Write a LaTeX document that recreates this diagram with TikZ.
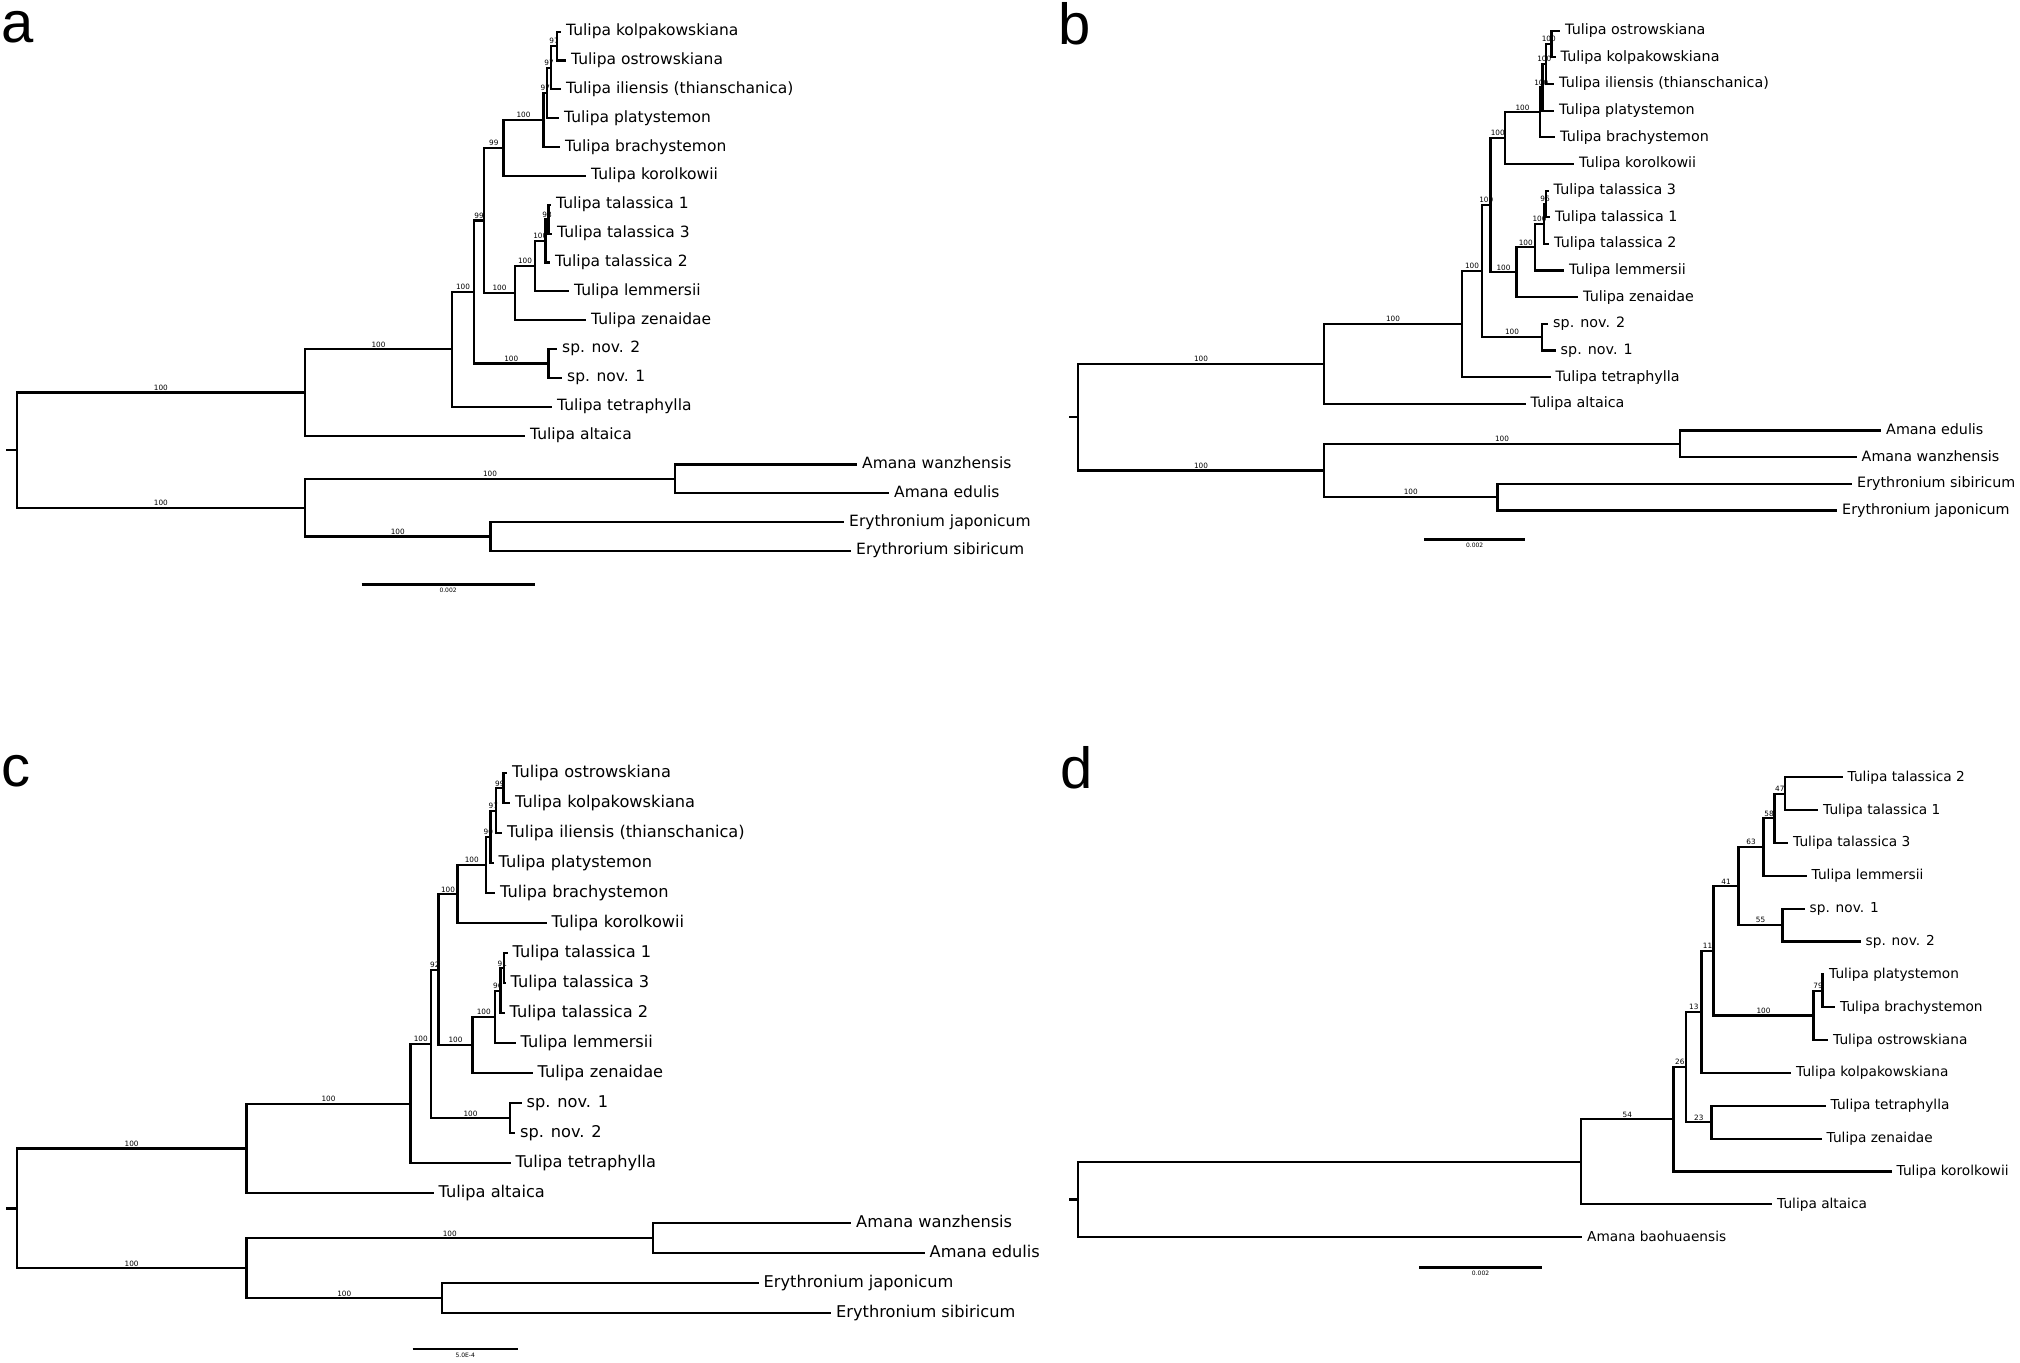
\documentclass[tikz,border=0pt]{standalone}
\usepackage{fontspec}
\newfontfamily\dv{DejaVu Sans}
\newfontfamily\lib{Liberation Sans}
\begin{document}
\begin{tikzpicture}[x=1pt,y=-1pt,
 br/.style={line width=2.2pt,line cap=rect},
 leaf/.style={anchor=west,inner xsep=6pt,inner ysep=0pt,text height=0.78em,text depth=0pt},
 fa/.style={font=\dv\fontsize{15.5}{18}\selectfont},
 fb/.style={font=\dv\fontsize{14.3}{17}\selectfont},
 fc/.style={font=\dv\fontsize{16.2}{19}\selectfont},
 fd/.style={font=\dv\fontsize{13.7}{16}\selectfont},
 bs/.style={font=\dv\fontsize{7.3}{8}\selectfont,pos=0.75,above,inner sep=1pt},
 sbar/.style={line width=2.5pt},
 slab/.style={font=\dv\fontsize{6}{7}\selectfont,below,inner sep=2.5pt},
 plab/.style={font=\lib\fontsize{58}{60}\selectfont,anchor=base west,inner sep=0pt}]
\fill[white] (0,0) rectangle (2020,1362);
\useasboundingbox (0,0) rectangle (2020,1362);

% ================= panel a =================
\node[plab] (la) at (1,43) {a};
\node[leaf,fa] (aL1) at (560,31.70) {Tulipa kolpakowskiana};
\node[leaf,fa] (aL2) at (565,60.55) {Tulipa ostrowskiana};
\node[leaf,fa] (aL3) at (560,89.40) {Tulipa iliensis (thianschanica)};
\node[leaf,fa] (aL4) at (558,118.25) {Tulipa platystemon};
\node[leaf,fa] (aL5) at (559,147.10) {Tulipa brachystemon};
\node[leaf,fa] (aL6) at (585,175.95) {Tulipa korolkowii};
\node[leaf,fa] (aL7) at (550,204.80) {Tulipa talassica 1};
\node[leaf,fa] (aL8) at (551,233.65) {Tulipa talassica 3};
\node[leaf,fa] (aL9) at (549,262.50) {Tulipa talassica 2};
\node[leaf,fa] (aL10) at (568,291.35) {Tulipa lemmersii};
\node[leaf,fa] (aL11) at (585,320.20) {Tulipa zenaidae};
\node[leaf,fa] (aL12) at (556,349.05) {sp. nov. 2};
\node[leaf,fa] (aL13) at (561,377.90) {sp. nov. 1};
\node[leaf,fa] (aL14) at (551,406.75) {Tulipa tetraphylla};
\node[leaf,fa] (aL15) at (524,435.60) {Tulipa altaica};
\node[leaf,fa] (aL16) at (856,464.45) {Amana wanzhensis};
\node[leaf,fa] (aL17) at (888,493.30) {Amana edulis};
\node[leaf,fa] (aL18) at (843,522.15) {Erythronium japonicum};
\node[leaf,fa] (aL19) at (850,551.00) {Erythrorium sibiricum};
\coordinate (aN1) at (557,46.13);
\coordinate (aN2) at (551,67.76);
\coordinate (aN3) at (547,93.00);
\coordinate (aN4) at (543.5,120.05);
\coordinate (aN5) at (503.5,148.00);
\coordinate (aT1) at (548.5,219.23);
\coordinate (aT2) at (545.5,240.86);
\coordinate (aT3) at (535,266.10);
\coordinate (aT4) at (515,293.15);
\coordinate (aN6) at (484,220.58);
\coordinate (aSP) at (548.5,363.48);
\coordinate (aN7) at (474,292.03);
\coordinate (aN8) at (452,349.39);
\coordinate (aN9) at (305,392.50);
\coordinate (aAM) at (675,478.88);
\coordinate (aER) at (490.5,536.58);
\coordinate (aOG) at (305,507.73);
\coordinate (aR) at (16.7,450.10);
\coordinate (aRt) at (6.7,450.10);
\draw[br] (aN1) |- (aL1.west); \draw[br] (aN1) |- (aL2.west);
\draw[br] (aN2) |- node[bs]{97} (aN1); \draw[br] (aN2) |- (aL3.west);
\draw[br] (aN3) |- node[bs]{97} (aN2); \draw[br] (aN3) |- (aL4.west);
\draw[br] (aN4) |- node[bs]{97} (aN3); \draw[br] (aN4) |- (aL5.west);
\draw[br] (aN5) |- node[bs]{100} (aN4); \draw[br] (aN5) |- (aL6.west);
\draw[br] (aT1) |- (aL7.west); \draw[br] (aT1) |- (aL8.west);
\draw[br] (aT2) |- node[bs]{98} (aT1); \draw[br] (aT2) |- (aL9.west);
\draw[br] (aT3) |- node[bs]{100} (aT2); \draw[br] (aT3) |- (aL10.west);
\draw[br] (aT4) |- node[bs]{100} (aT3); \draw[br] (aT4) |- (aL11.west);
\draw[br] (aN6) |- node[bs]{99} (aN5); \draw[br] (aN6) |- node[bs]{100} (aT4);
\draw[br] (aSP) |- (aL12.west); \draw[br] (aSP) |- (aL13.west);
\draw[br] (aN7) |- node[bs]{99} (aN6); \draw[br] (aN7) |- node[bs]{100} (aSP);
\draw[br] (aN8) |- node[bs]{100} (aN7); \draw[br] (aN8) |- (aL14.west);
\draw[br] (aN9) |- node[bs]{100} (aN8); \draw[br] (aN9) |- (aL15.west);
\draw[br] (aAM) |- (aL16.west); \draw[br] (aAM) |- (aL17.west);
\draw[br] (aER) |- (aL18.west); \draw[br] (aER) |- (aL19.west);
\draw[br] (aOG) |- node[bs]{100} (aAM); \draw[br] (aOG) |- node[bs]{100} (aER);
\draw[br] (aR) |- node[bs]{100} (aN9); \draw[br] (aR) |- node[bs]{100} (aOG);
\draw[br] (aRt) -- (aR);
\coordinate (aS1) at (361.7,584.4); \coordinate (aS2) at (534.5,584.4);
\draw[sbar] (aS1) -- node[slab]{0.002} (aS2);

% ================= panel b =================
\node[plab] (lb) at (1058,45) {b};
\node[leaf,fb] (bL1) at (1559,30.70) {Tulipa ostrowskiana};
\node[leaf,fb] (bL2) at (1554.5,57.35) {Tulipa kolpakowskiana};
\node[leaf,fb] (bL3) at (1553,84.00) {Tulipa iliensis (thianschanica)};
\node[leaf,fb] (bL4) at (1553,110.65) {Tulipa platystemon};
\node[leaf,fb] (bL5) at (1554,137.30) {Tulipa brachystemon};
\node[leaf,fb] (bL6) at (1573,163.95) {Tulipa korolkowii};
\node[leaf,fb] (bL7) at (1547.5,190.60) {Tulipa talassica 3};
\node[leaf,fb] (bL8) at (1549,217.25) {Tulipa talassica 1};
\node[leaf,fb] (bL9) at (1548,243.90) {Tulipa talassica 2};
\node[leaf,fb] (bL10) at (1563,270.55) {Tulipa lemmersii};
\node[leaf,fb] (bL11) at (1577,297.20) {Tulipa zenaidae};
\node[leaf,fb] (bL12) at (1547,323.85) {sp. nov. 2};
\node[leaf,fb] (bL13) at (1554.5,350.50) {sp. nov. 1};
\node[leaf,fb] (bL14) at (1549.5,377.15) {Tulipa tetraphylla};
\node[leaf,fb] (bL15) at (1524.5,403.80) {Tulipa altaica};
\node[leaf,fb] (bL16) at (1880,430.45) {Amana edulis};
\node[leaf,fb] (bL17) at (1855.5,457.10) {Amana wanzhensis};
\node[leaf,fb] (bL18) at (1851,483.75) {Erythronium sibiricum};
\node[leaf,fb] (bL19) at (1836,510.40) {Erythronium japonicum};
\coordinate (bB1) at (1551.5,44.03);
\coordinate (bB2) at (1546,64.01);
\coordinate (bB3) at (1542.5,87.33);
\coordinate (bB4) at (1540,112.32);
\coordinate (bB5) at (1505,138.13);
\coordinate (bT1) at (1546,203.93);
\coordinate (bT2) at (1544,223.91);
\coordinate (bT3) at (1535,247.23);
\coordinate (bT4) at (1516.5,272.22);
\coordinate (bB6) at (1490.5,205.17);
\coordinate (bSP) at (1542,337.18);
\coordinate (bB7) at (1482,271.17);
\coordinate (bB8) at (1462,324.16);
\coordinate (bB9) at (1324,363.98);
\coordinate (bAM) at (1680,443.78);
\coordinate (bER) at (1497.5,497.08);
\coordinate (bOG) at (1324,470.43);
\coordinate (bR) at (1078,417.20);
\coordinate (bRt) at (1070,417.20);
\draw[br] (bB1) |- (bL1.west); \draw[br] (bB1) |- (bL2.west);
\draw[br] (bB2) |- node[bs]{100} (bB1); \draw[br] (bB2) |- (bL3.west);
\draw[br] (bB3) |- node[bs]{100} (bB2); \draw[br] (bB3) |- (bL4.west);
\draw[br] (bB4) |- node[bs]{100} (bB3); \draw[br] (bB4) |- (bL5.west);
\draw[br] (bB5) |- node[bs]{100} (bB4); \draw[br] (bB5) |- (bL6.west);
\draw[br] (bT1) |- (bL7.west); \draw[br] (bT1) |- (bL8.west);
\draw[br] (bT2) |- node[bs]{96} (bT1); \draw[br] (bT2) |- (bL9.west);
\draw[br] (bT3) |- node[bs]{100} (bT2); \draw[br] (bT3) |- (bL10.west);
\draw[br] (bT4) |- node[bs]{100} (bT3); \draw[br] (bT4) |- (bL11.west);
\draw[br] (bB6) |- node[bs]{100} (bB5); \draw[br] (bB6) |- node[bs]{100} (bT4);
\draw[br] (bSP) |- (bL12.west); \draw[br] (bSP) |- (bL13.west);
\draw[br] (bB7) |- node[bs]{100} (bB6); \draw[br] (bB7) |- node[bs]{100} (bSP);
\draw[br] (bB8) |- node[bs]{100} (bB7); \draw[br] (bB8) |- (bL14.west);
\draw[br] (bB9) |- node[bs]{100} (bB8); \draw[br] (bB9) |- (bL15.west);
\draw[br] (bAM) |- (bL16.west); \draw[br] (bAM) |- (bL17.west);
\draw[br] (bER) |- (bL18.west); \draw[br] (bER) |- (bL19.west);
\draw[br] (bOG) |- node[bs]{100} (bAM); \draw[br] (bOG) |- node[bs]{100} (bER);
\draw[br] (bR) |- node[bs]{100} (bB9); \draw[br] (bR) |- node[bs]{100} (bOG);
\draw[br] (bRt) -- (bR);
\coordinate (bS1) at (1424.3,539.7); \coordinate (bS2) at (1525,539.7);
\draw[sbar] (bS1) -- node[slab]{0.002} (bS2);

% ================= panel c =================
\node[plab] (lc) at (1,786) {c};
\node[leaf,fc] (cL1) at (506,773.3) {Tulipa ostrowskiana};
\node[leaf,fc] (cL2) at (509,803.3) {Tulipa kolpakowskiana};
\node[leaf,fc] (cL3) at (501,833.3) {Tulipa iliensis (thianschanica)};
\node[leaf,fc] (cL4) at (492.5,863.3) {Tulipa platystemon};
\node[leaf,fc] (cL5) at (494,893.3) {Tulipa brachystemon};
\node[leaf,fc] (cL6) at (545.5,923.3) {Tulipa korolkowii};
\node[leaf,fc] (cL7) at (506.5,953.3) {Tulipa talassica 1};
\node[leaf,fc] (cL8) at (504.5,983.3) {Tulipa talassica 3};
\node[leaf,fc] (cL9) at (503.5,1013.3) {Tulipa talassica 2};
\node[leaf,fc] (cL10) at (514.5,1043.3) {Tulipa lemmersii};
\node[leaf,fc] (cL11) at (531.5,1073.3) {Tulipa zenaidae};
\node[leaf,fc] (cL12) at (520.5,1103.3) {sp. nov. 1};
\node[leaf,fc] (cL13) at (514,1133.3) {sp. nov. 2};
\node[leaf,fc] (cL14) at (509.5,1163.3) {Tulipa tetraphylla};
\node[leaf,fc] (cL15) at (432.5,1193.3) {Tulipa altaica};
\node[leaf,fc] (cL16) at (850,1223.3) {Amana wanzhensis};
\node[leaf,fc] (cL17) at (923.5,1253.3) {Amana edulis};
\node[leaf,fc] (cL18) at (757.5,1283.3) {Erythronium japonicum};
\node[leaf,fc] (cL19) at (830,1313.3) {Erythronium sibiricum};
\coordinate (cC1) at (503.5,788.30);
\coordinate (cC2) at (496,810.80);
\coordinate (cC3) at (490.5,837.05);
\coordinate (cC4) at (486,865.18);
\coordinate (cC5) at (457.5,894.24);
\coordinate (cT1) at (504,968.30);
\coordinate (cT2) at (500.5,990.80);
\coordinate (cT3) at (495,1017.05);
\coordinate (cT4) at (472.5,1045.18);
\coordinate (cC6) at (438.5,969.71);
\coordinate (cSP) at (510,1118.30);
\coordinate (cC7) at (431,1044.00);
\coordinate (cC8) at (410.5,1103.65);
\coordinate (cC9) at (246.5,1148.48);
\coordinate (cAM) at (653,1238.30);
\coordinate (cER) at (442,1298.30);
\coordinate (cOG) at (246.5,1268.30);
\coordinate (cR) at (16.7,1208.39);
\coordinate (cRt) at (6.7,1208.39);
\draw[br] (cC1) |- (cL1.west); \draw[br] (cC1) |- (cL2.west);
\draw[br] (cC2) |- node[bs]{99} (cC1); \draw[br] (cC2) |- (cL3.west);
\draw[br] (cC3) |- node[bs]{97} (cC2); \draw[br] (cC3) |- (cL4.west);
\draw[br] (cC4) |- node[bs]{90} (cC3); \draw[br] (cC4) |- (cL5.west);
\draw[br] (cC5) |- node[bs]{100} (cC4); \draw[br] (cC5) |- (cL6.west);
\draw[br] (cT1) |- (cL7.west); \draw[br] (cT1) |- (cL8.west);
\draw[br] (cT2) |- node[bs]{91} (cT1); \draw[br] (cT2) |- (cL9.west);
\draw[br] (cT3) |- node[bs]{96} (cT2); \draw[br] (cT3) |- (cL10.west);
\draw[br] (cT4) |- node[bs]{100} (cT3); \draw[br] (cT4) |- (cL11.west);
\draw[br] (cC6) |- node[bs]{100} (cC5); \draw[br] (cC6) |- node[bs]{100} (cT4);
\draw[br] (cSP) |- (cL12.west); \draw[br] (cSP) |- (cL13.west);
\draw[br] (cC7) |- node[bs]{92} (cC6); \draw[br] (cC7) |- node[bs]{100} (cSP);
\draw[br] (cC8) |- node[bs]{100} (cC7); \draw[br] (cC8) |- (cL14.west);
\draw[br] (cC9) |- node[bs]{100} (cC8); \draw[br] (cC9) |- (cL15.west);
\draw[br] (cAM) |- (cL16.west); \draw[br] (cAM) |- (cL17.west);
\draw[br] (cER) |- (cL18.west); \draw[br] (cER) |- (cL19.west);
\draw[br] (cOG) |- node[bs]{100} (cAM); \draw[br] (cOG) |- node[bs]{100} (cER);
\draw[br] (cR) |- node[bs]{100} (cC9); \draw[br] (cR) |- node[bs]{100} (cOG);
\draw[br] (cRt) -- (cR);
\coordinate (cS1) at (412.7,1349); \coordinate (cS2) at (517.7,1349);
\draw[sbar] (cS1) -- node[slab]{5.0E-4} (cS2);

% ================= panel d =================
\node[plab] (ld) at (1060,788) {d};
\node[leaf,fd] (dL1) at (1841.5,777.30) {Tulipa talassica 2};
\node[leaf,fd] (dL2) at (1817,810.15) {Tulipa talassica 1};
\node[leaf,fd] (dL3) at (1787,843.00) {Tulipa talassica 3};
\node[leaf,fd] (dL4) at (1805.5,875.85) {Tulipa lemmersii};
\node[leaf,fd] (dL5) at (1803.5,908.70) {sp. nov. 1};
\node[leaf,fd] (dL6) at (1859.5,941.55) {sp. nov. 2};
\node[leaf,fd] (dL7) at (1823,974.40) {Tulipa platystemon};
\node[leaf,fd] (dL8) at (1834,1007.25) {Tulipa brachystemon};
\node[leaf,fd] (dL9) at (1827,1040.10) {Tulipa ostrowskiana};
\node[leaf,fd] (dL10) at (1790,1072.95) {Tulipa kolpakowskiana};
\node[leaf,fd] (dL11) at (1824.5,1105.80) {Tulipa tetraphylla};
\node[leaf,fd] (dL12) at (1820.5,1138.65) {Tulipa zenaidae};
\node[leaf,fd] (dL13) at (1890.5,1171.50) {Tulipa korolkowii};
\node[leaf,fd] (dL14) at (1771,1204.35) {Tulipa altaica};
\node[leaf,fd] (dL15) at (1581,1237.20) {Amana baohuaensis};
\coordinate (dD1) at (1785,793.73);
\coordinate (dD2) at (1774.5,818.36);
\coordinate (dD3) at (1763.5,847.11);
\coordinate (dSP) at (1782.5,925.13);
\coordinate (dD4) at (1738.5,886.12);
\coordinate (dP1) at (1822.5,990.83);
\coordinate (dP2) at (1813.5,1015.46);
\coordinate (dD5) at (1713.5,950.79);
\coordinate (dD6) at (1701.5,1011.87);
\coordinate (dDT) at (1711.5,1122.23);
\coordinate (dD7) at (1686,1067.05);
\coordinate (dD8) at (1673.5,1119.28);
\coordinate (dD9) at (1581,1161.82);
\coordinate (dR) at (1078,1199.51);
\coordinate (dRt) at (1070,1199.51);
\draw[br] (dD1) |- (dL1.west); \draw[br] (dD1) |- (dL2.west);
\draw[br] (dD2) |- node[bs]{47} (dD1); \draw[br] (dD2) |- (dL3.west);
\draw[br] (dD3) |- node[bs]{58} (dD2); \draw[br] (dD3) |- (dL4.west);
\draw[br] (dSP) |- (dL5.west); \draw[br] (dSP) |- (dL6.west);
\draw[br] (dD4) |- node[bs]{63} (dD3); \draw[br] (dD4) |- node[bs]{55} (dSP);
\draw[br] (dP1) |- (dL7.west); \draw[br] (dP1) |- (dL8.west);
\draw[br] (dP2) |- node[bs]{79} (dP1); \draw[br] (dP2) |- (dL9.west);
\draw[br] (dD5) |- node[bs]{41} (dD4); \draw[br] (dD5) |- node[bs]{100} (dP2);
\draw[br] (dD6) |- node[bs]{11} (dD5); \draw[br] (dD6) |- (dL10.west);
\draw[br] (dDT) |- (dL11.west); \draw[br] (dDT) |- (dL12.west);
\draw[br] (dD7) |- node[bs]{13} (dD6); \draw[br] (dD7) |- node[bs]{23} (dDT);
\draw[br] (dD8) |- node[bs]{26} (dD7); \draw[br] (dD8) |- (dL13.west);
\draw[br] (dD9) |- node[bs]{54} (dD8); \draw[br] (dD9) |- (dL14.west);
\draw[br] (dR) |- (dD9); \draw[br] (dR) |- (dL15.west);
\draw[br] (dRt) -- (dR);
\coordinate (dS1) at (1419.3,1267.6); \coordinate (dS2) at (1541.8,1267.6);
\draw[sbar] (dS1) -- node[slab]{0.002} (dS2);
\end{tikzpicture}
\end{document}
